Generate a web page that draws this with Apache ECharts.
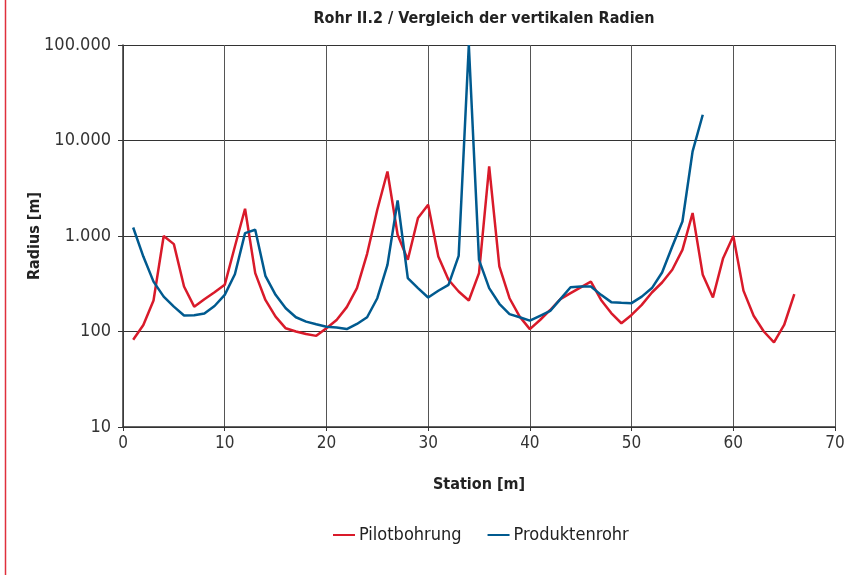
<!DOCTYPE html>
<html>
<head>
<meta charset="utf-8">
<script src="https://cdn.jsdelivr.net/npm/echarts@6/dist/echarts.min.js"></script>
<style>
html,body{margin:0;padding:0;background:#fff;}
#chart{width:849px;height:575px;}
</style>
</head>
<body>
<div id="chart"></div>
<script>
const titleText = 'Rohr II.2 / Vergleich der vertikalen Radien';
const xName = 'Station [m]';
const yName = 'Radius [m]';
const seriesNames = ['Pilotbohrung', 'Produktenrohr'];

const stationsPilot = [1,2,3,4,5,6,7,8,9,10,11,12,13,14,15,16,17,18,19,20,21,22,23,24,25,26,27,28,29,30,31,32,33,34,35,36,37,38,39,40,41,42,43,44,45,46,47,48,49,50,51,52,53,54,55,56,57,58,59,60,61,62,63,64,65,66];
const radiusPilot = [82,117,211,1000,822,296,182,218,258,308,776,1928,409,214,143,108,100,94,90,108,132,180,285,651,1884,4740,1030,563,1541,2125,609,348,262,211,409,5350,480,223,143,106,132,168,218,252,290,333,214,156,122,149,190,256,326,443,716,1738,392,227,586,1000,268,146,100,77,117,246];

const stationsProdukt = [1,2,3,4,5,6,7,8,9,10,11,12,13,14,15,16,17,18,19,20,21,22,23,24,25,26,27,28,29,30,31,32,33,34,35,36,37,38,39,40,41,42,43,44,45,46,47,48,49,50,51,52,53,54,55,56,57];
const radiusProdukt = [1227,609,333,232,182,147,148,154,185,242,398,1072,1161,383,242,175,141,127,119,112,110,106,120,141,223,499,2356,362,285,227,267,308,620,100000,563,285,195,152,141,130,146,164,218,291,296,296,242,203,200,198,232,285,415,776,1419,7690,18600];

const xTicks = {min: 0, max: 70, interval: 10};
const yTicks = {min: 10, max: 100000};

function pairs(xs, ys){ return xs.map((x,i)=>[x, ys[i]]); }
function deFmt(v){ return String(Math.round(v)).replace(/\B(?=(\d{3})+(?!\d))/g, '.'); }

const FONT = "'Liberation Sans Narrow','DejaVu Sans Condensed','Open Sans',sans-serif";
const chart = echarts.init(document.getElementById('chart'));
chart.setOption({
  animation: false,
  backgroundColor: '#fff',
  textStyle: {fontFamily: FONT},
  title: {
    text: titleText, left: 479, top: 6, textAlign: 'center',
    textStyle: {fontFamily: FONT, fontSize: 16, fontWeight: 'bold', color: '#222'}
  },
  legend: {
    data: seriesNames, bottom: 26, left: 328,
    icon: 'rect', itemWidth: 22, itemHeight: 2, itemGap: 26,
    textStyle: {fontFamily: FONT, fontSize: 18, color: '#222', padding: [0,0,0,-1]}
  },
  grid: {left: 123, right: 14, top: 45, bottom: 148},
  xAxis: {
    type: 'value', min: xTicks.min, max: xTicks.max, interval: xTicks.interval,
    name: xName, nameLocation: 'middle', nameGap: 50, nameMoveOverlap: false,
    nameTextStyle: {fontFamily: FONT, fontSize: 16, fontWeight: 'bold', color: '#222'},
    axisLine: {lineStyle: {color: '#333', width: 1.5}},
    axisTick: {show: true, length: 4, lineStyle: {color: '#333'}},
    axisLabel: {fontFamily: FONT, fontSize: 17, color: '#333', margin: 8},
    splitLine: {show: true, lineStyle: {color: '#555', width: 1}}
  },
  yAxis: {
    type: 'log', logBase: 10, min: yTicks.min, max: yTicks.max,
    name: yName, nameLocation: 'middle', nameGap: 80, nameMoveOverlap: false,
    nameTextStyle: {fontFamily: FONT, fontSize: 16, fontWeight: 'bold', color: '#222'},
    axisLine: {show: true, lineStyle: {color: '#333', width: 1.5}},
    axisTick: {show: true, length: 5, lineStyle: {color: '#333'}},
    axisLabel: {fontFamily: FONT, fontSize: 18, color: '#333', margin: 12, formatter: v => deFmt(v)},
    splitLine: {show: true, lineStyle: {color: '#333', width: 1}}
  },
  graphic: [{
    type: 'line', shape: {x1: 5.5, y1: 0, x2: 5.5, y2: 575},
    style: {stroke: '#e0303c', lineWidth: 1.5}
  }],
  series: [
    {name: seriesNames[0], type: 'line', data: pairs(stationsPilot, radiusPilot),
     showSymbol: false, symbol: 'none', lineStyle: {color: '#d91a2a', width: 2.5}, itemStyle: {color: '#d91a2a'}},
    {name: seriesNames[1], type: 'line', data: pairs(stationsProdukt, radiusProdukt),
     showSymbol: false, symbol: 'none', lineStyle: {color: '#005a8f', width: 2.5}, itemStyle: {color: '#005a8f'}}
  ]
});
</script>
</body>
</html>
